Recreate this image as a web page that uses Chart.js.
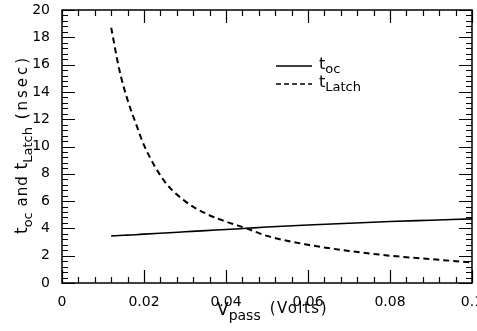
<!DOCTYPE html>
<html><head><meta charset="utf-8">
<script src="https://cdn.jsdelivr.net/npm/chart.js@4"></script>
<style>html,body{margin:0;padding:0;background:#fff}#w{width:477px;height:331px}</style>
</head><body><div id="w"><canvas id="c"></canvas></div>
<script>
const vpass   = [0.012,0.014,0.016,0.018,0.02,0.025,0.03,0.035,0.04,0.045,0.05,0.06,0.07,0.08,0.09,0.1];
const tOc     = [3.45,3.48,3.51,3.54,3.58,3.66,3.75,3.84,3.92,4.01,4.1,4.25,4.38,4.5,4.6,4.7];
const tLatch  = [18.7,15.6,13.4,11.7,10.1,7.45,6.0,5.1,4.5,4.0,3.45,2.8,2.35,2.0,1.75,1.5];
const xTicks  = [0,0.02,0.04,0.06,0.08,0.1];
const xTickLabels = ['0','0.02','0.04','0.06','0.08','0.1'];
const yTicks  = [0,2,4,6,8,10,12,14,16,18,20];
const yTickLabels = ['0','2','4','6','8','10','12','14','16','18','20'];
const seriesNames = [['t','oc'],['t','Latch']];

const FONT = 'DejaVu Sans';
const frame = {
  id:'frame',
  afterDraw(chart){
    const {ctx, chartArea:a, scales:{x,y}} = chart;
    ctx.save();
    ctx.strokeStyle='#000'; ctx.lineWidth=1.5;
    ctx.strokeRect(a.left, a.top, a.right-a.left, a.bottom-a.top);
    ctx.lineWidth=1.2;
    for(let i=0;i<=25;i++){
      const v=i*0.004; const px=Math.round(x.getPixelForValue(v))+0.5;
      const L = (i%5===0)?13:6;
      ctx.beginPath();
      ctx.moveTo(px,a.bottom); ctx.lineTo(px,a.bottom-L);
      ctx.moveTo(px,a.top); ctx.lineTo(px,a.top+L);
      ctx.stroke();
    }
    for(let i=0;i<=50;i++){
      const v=i*0.4; const py=Math.round(y.getPixelForValue(v))+0.5;
      const L = (i%5===0)?13:6;
      ctx.beginPath();
      ctx.moveTo(a.left,py); ctx.lineTo(a.left+L,py);
      ctx.moveTo(a.right,py); ctx.lineTo(a.right-L,py);
      ctx.stroke();
    }
    ctx.fillStyle='#000'; ctx.textBaseline='alphabetic'; ctx.textAlign='left';
    // x title
    let cx = 217, by = 315;
    ctx.font='17px '+FONT;
    ctx.fillText('V', cx, by); cx += ctx.measureText('V').width;
    ctx.font='14px '+FONT; ctx.fillText('pass', cx, by+5); cx += ctx.measureText('pass').width + 9;
    ctx.font='15px '+FONT; ctx.letterSpacing='1.5px';
    ctx.fillText('(Volts)', cx, by-2);
    ctx.letterSpacing='0px';
    // y title rotated
    ctx.save();
    ctx.translate(27, 234); ctx.rotate(-Math.PI/2);
    let ty=0;
    const parts=[['t',17,0,'0px'],['oc',13,5,'0px'],[' and ',15,0,'1px'],['t',17,0,'0px'],['Latch',13,5,'0px'],[' (nsec)',15,0,'3px']];
    for(const [s,fs,dy,ls] of parts){ ctx.font=fs+'px '+FONT; ctx.letterSpacing=ls; ctx.fillText(s, ty, dy); ty+=ctx.measureText(s).width; }
    ctx.letterSpacing='0px';
    ctx.restore();
    // legend
    const items=[{y:66,dash:[]},{y:84,dash:[5,3]}];
    items.forEach((it,i)=>{
      ctx.setLineDash(it.dash); ctx.lineWidth=1.6;
      ctx.beginPath(); ctx.moveTo(276,it.y); ctx.lineTo(312,it.y); ctx.stroke();
      ctx.setLineDash([]);
      let lx=319;
      ctx.font='16px '+FONT; ctx.fillText(seriesNames[i][0], lx, it.y+3); lx+=ctx.measureText(seriesNames[i][0]).width;
      ctx.font='13px '+FONT; ctx.fillText(seriesNames[i][1], lx, it.y+7);
    });
    ctx.restore();
  }
};

new Chart(document.getElementById('c'), {
  type:'line',
  data:{datasets:[
    {label:'toc', data:vpass.map((v,i)=>({x:v,y:tOc[i]})), borderColor:'#000', borderWidth:1.6, pointRadius:0, fill:false, cubicInterpolationMode:'monotone'},
    {label:'tLatch', data:vpass.map((v,i)=>({x:v,y:tLatch[i]})), borderColor:'#000', borderWidth:2, borderDash:[6,4], pointRadius:0, fill:false, cubicInterpolationMode:'monotone'}
  ]},
  options:{
    responsive:true, maintainAspectRatio:false, animation:false,
    layout:{padding:{top:10,right:5,left:0,bottom:0}},
    plugins:{legend:{display:false},tooltip:{enabled:false}},
    scales:{
      x:{type:'linear',min:0,max:0.1,
        afterBuildTicks(s){s.ticks=xTicks.map(v=>({value:v}));},
        afterFit(s){s.height=48; s.paddingLeft=0; s.paddingRight=0;},
        grid:{display:false}, border:{display:false},
        ticks:{color:'#000',font:{family:FONT,size:14},padding:3,maxRotation:0,autoSkip:false,
          callback:(v,i)=>xTickLabels[i]}},
      y:{type:'linear',min:0,max:20,
        afterBuildTicks(s){s.ticks=yTicks.map(v=>({value:v}));},
        afterFit(s){s.width=62; s.paddingTop=0; s.paddingBottom=0;},
        grid:{display:false}, border:{display:false},
        ticks:{color:'#000',font:{family:FONT,size:14},padding:4,autoSkip:false,
          callback:(v,i)=>yTickLabels[i]}}
    }
  },
  plugins:[frame]
});
</script></body></html>
